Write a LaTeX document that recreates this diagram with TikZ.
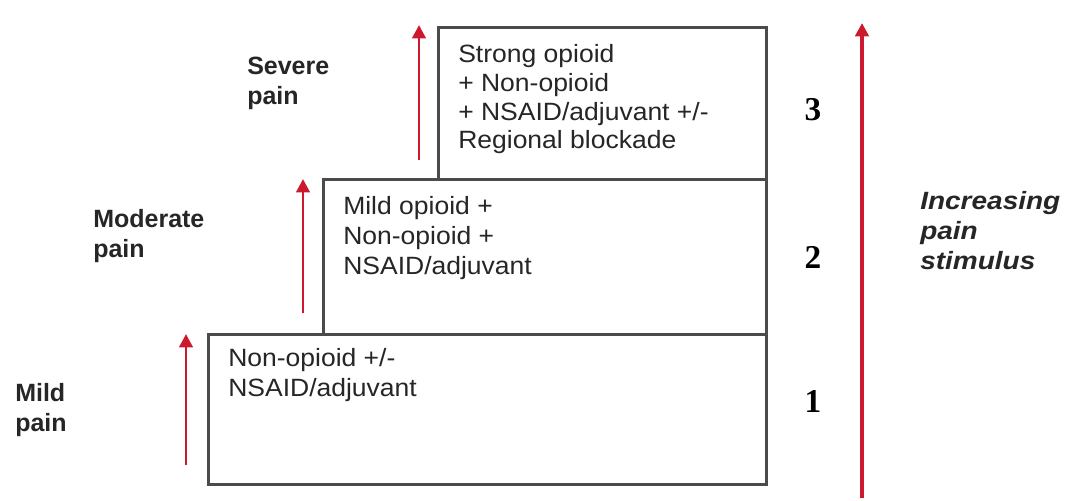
\documentclass[tikz,border=0pt]{standalone}
\usepackage{fontspec}
\setmainfont{Liberation Sans}
\newfontfamily\boxfont[FakeStretch=1.06]{Liberation Sans}
\newfontfamily\incfont[FakeStretch=1.12]{Liberation Sans}
\newfontfamily\numfont{Liberation Serif}
\usetikzlibrary{arrows.meta}
\definecolor{arrowred}{RGB}{205,25,45}
\definecolor{boxgray}{RGB}{75,75,75}
\tikzset{
  stepbox/.style={draw=boxgray, line width=2pt, fill=white, inner sep=0, anchor=north west},
  boxtext/.style={anchor=north west, inner sep=0, align=left, text=black!85, font=\boxfont\fontsize{18.75}{22.5}\selectfont},
  paintext/.style={anchor=north west, inner sep=0, align=left, text=black!85, font=\bfseries\fontsize{18.75}{22.5}\selectfont},
  numtext/.style={inner sep=0, font=\numfont\bfseries\fontsize{25}{30}\selectfont},
  redarrow/.style={draw=arrowred, line width=2.2pt, -{Triangle[length=10pt,width=10pt]}},
}
\begin{document}
\begin{tikzpicture}[x=0.75pt, y=-0.75pt]
\useasboundingbox (0,0) rectangle (1073,500);
% boxes
\node[stepbox, minimum width=558*0.75pt, minimum height=150*0.75pt] (b1) at (207,333) {};
\node[stepbox, minimum width=443*0.75pt, minimum height=155*0.75pt] (b2) at (322,178) {};
\node[stepbox, minimum width=328*0.75pt, minimum height=152*0.75pt] (b3) at (437,26) {};
% box texts
\node[boxtext] (t1) at (228,348.5) {Non-opioid +/-\\NSAID/adjuvant};
\node[boxtext] (t2) at (343,196.5) {Mild opioid +\\Non-opioid +\\NSAID/adjuvant};
\node[boxtext, font=\boxfont\fontsize{18.75}{21.5}\selectfont] (t3) at (458,44.5) {Strong opioid\\+ Non-opioid\\+ NSAID/adjuvant +/-\\Regional blockade};
% pain labels
\node[paintext] (l1) at (15,383.5) {Mild\\pain};
\node[paintext] (l2) at (93,209.5) {Moderate\\pain};
\node[paintext] (l3) at (247,56.5) {Severe\\pain};
% numbers
\node[numtext] (n3) at (813,110) {3};
\node[numtext] (n2) at (813,257) {2};
\node[numtext] (n1) at (813,401) {1};
% increasing
\node[anchor=north west, inner sep=0, align=left, text=black!85, font=\incfont\bfseries\itshape\fontsize{18.75}{22.5}\selectfont] (inc) at (920,191.5) {Increasing\\pain\\stimulus};
% arrows
\coordinate (a1s) at (186,465); \coordinate (a1e) at (186,334);
\coordinate (a2s) at (303,313); \coordinate (a2e) at (303,179);
\coordinate (a3s) at (419,160); \coordinate (a3e) at (419,25);
\coordinate (a4s) at (862,498); \coordinate (a4e) at (862,23);
\draw[redarrow] (a1s) -- (a1e);
\draw[redarrow] (a2s) -- (a2e);
\draw[redarrow] (a3s) -- (a3e);
\draw[redarrow, line width=2.6pt] (a4s) -- (a4e);
\end{tikzpicture}
\end{document}
